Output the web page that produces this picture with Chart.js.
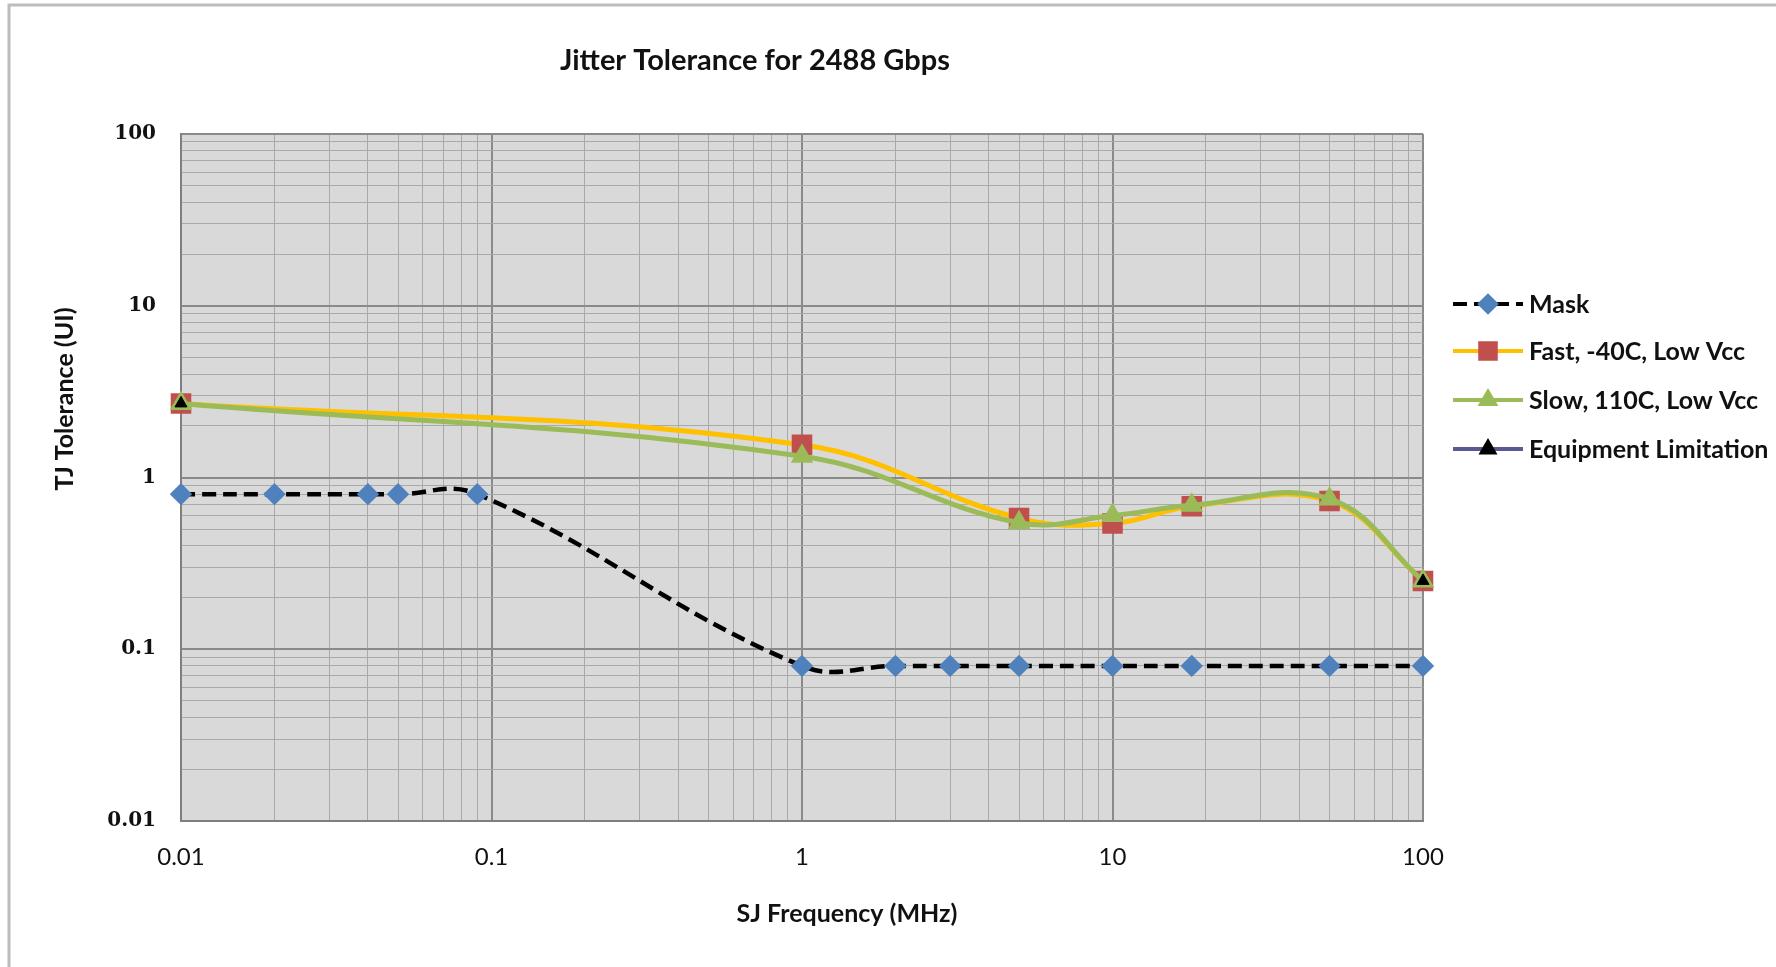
<!DOCTYPE html>
<html>
<head>
<meta charset="utf-8">
<script src="https://cdn.jsdelivr.net/npm/chart.js@4/dist/chart.umd.min.js"></script>
<style>
  html, body { margin: 0; padding: 0; background: #fff; }
  #wrap { width: 1776px; height: 967px; }
</style>
</head>
<body>
<div id="wrap"><canvas id="jitter-chart" width="1776" height="967"></canvas></div>
<script>
// Data
var maskFreq = [0.01, 0.02, 0.04, 0.05, 0.09, 1, 2, 3, 5, 10, 18, 50, 100];
var maskTol = [0.8, 0.8, 0.8, 0.8, 0.8, 0.08, 0.08, 0.08, 0.08, 0.08, 0.08, 0.08, 0.08];

var devFreq = [0.01, 1, 5, 10, 18, 50, 100];
var fastTol = [2.7, 1.55, 0.58, 0.54, 0.68, 0.73, 0.25];
var slowTol = [2.7, 1.33, 0.545, 0.6, 0.69, 0.75, 0.25];

var equipFreq = [0.01, 100];
var equipTol = [2.7, 0.25];

var decades = [0.01, 0.1, 1, 10, 100];
var decadeLabels = ["0.01", "0.1", "1", "10", "100"];

var seriesNames = ["Mask", "Fast, -40C, Low Vcc", "Slow, 110C, Low Vcc", "Equipment Limitation"];

function pts(xs, ys) {
    return xs.map(function (x, i) { return { x: x, y: ys[i] }; });
}

function isDecade(v) {
    return decades.some(function (d) { return Math.abs(v - d) / d < 1e-6; });
}

// 1..9 in every decade, so the grid looks like the Excel log grid
function logTicks(scale) {
    var t = [];
    for (var i = 0; i < decades.length - 1; i++) {
        for (var m = 1; m < 10; m++) {
            t.push({ value: +(decades[i] * m).toPrecision(6) });
        }
    }
    t.push({ value: decades[decades.length - 1] });
    scale.ticks = t;
}

function tickLabel(value) {
    var i = decades.findIndex(function (d) { return Math.abs(value - d) / d < 1e-6; });
    return i >= 0 ? decadeLabels[i] : "";
}

var gridColor = function (c) {
    return c.tick && isDecade(c.tick.value) ? "#8a8a8a" : "#a9a9a9";
};
var gridWidth = function (c) {
    return c.tick && isDecade(c.tick.value) ? 2 : 1;
};

var legendItems = [
    { line: "#000000", dash: [14, 7], marker: "rectRot", radius: 8, fill: "#4f81bd" },
    { line: "#ffc000", dash: [], marker: "rect", radius: 11, fill: "#c0504d" },
    { line: "#9bbb59", dash: [], marker: "triangle", radius: 8, fill: "#9bbb59" },
    { line: "#5a5a92", dash: [], marker: "triangle", radius: 7, fill: "#000000" }
];

var decorPlugin = {
    id: "decor",
    beforeDraw: function (chart) {
        var c = chart.ctx, a = chart.chartArea;
        c.save();
        c.fillStyle = "#ffffff";
        c.fillRect(0, 0, chart.width, chart.height);
        c.strokeStyle = "#bdbdbd";
        c.lineWidth = 3;
        c.strokeRect(9, 5, chart.width + 20, chart.height + 20);
        c.fillStyle = "#d9d9d9";
        c.fillRect(a.left, a.top, a.right - a.left, a.bottom - a.top);
        c.restore();
    },
    afterDraw: function (chart) {
        var c = chart.ctx;
        c.save();
        c.fillStyle = "#111";
        c.textAlign = "center";
        c.textBaseline = "middle";
        c.font = "bold 29px Lato";
        c.fillText("Jitter Tolerance for 2488 Gbps", 755, 61);
        c.font = "bold 25px Lato";
        c.fillText("SJ Frequency (MHz)", 847, 914);
        c.save();
        c.translate(65, 399);
        c.rotate(-Math.PI / 2);
        c.fillText("TJ Tolerance (UI)", 0, 0);
        c.restore();

        // legend: line + marker like Excel
        var ys = [304, 351, 400, 449];
        c.textAlign = "left";
        c.font = "bold 25px Lato";
        legendItems.forEach(function (it, i) {
            var y = ys[i];
            c.beginPath();
            c.setLineDash(it.dash);
            c.strokeStyle = it.line;
            c.lineWidth = 4;
            c.moveTo(1453, y);
            c.lineTo(1523, y);
            c.stroke();
            c.setLineDash([]);
            c.fillStyle = it.fill;
            c.strokeStyle = it.fill;
            Chart.helpers.drawPoint(c, { pointStyle: it.marker, radius: it.radius, rotation: 0, borderWidth: 1 }, 1488, y);
            c.fillStyle = "#111";
            c.fillText(seriesNames[i], 1529, y + 1);
        });
        c.restore();
    }
};

var ctx = document.getElementById("jitter-chart").getContext("2d");
var jitterChart = new Chart(ctx, {
    type: "line",
    data: {
        datasets: [{
            label: seriesNames[0],
            data: pts(maskFreq, maskTol),
            borderColor: "#000000",
            borderWidth: 4.5,
            borderDash: [14, 7],
            tension: 0.4,
            pointStyle: "rectRot",
            pointRadius: 8,
            pointBackgroundColor: "#4f81bd",
            pointBorderColor: "#4f81bd",
            clip: false,
            order: 4
        }, {
            label: seriesNames[1],
            data: pts(devFreq, fastTol),
            borderColor: "#ffc000",
            borderWidth: 5,
            tension: 0.4,
            pointStyle: "rect",
            pointRadius: 11,
            pointBackgroundColor: "#c0504d",
            pointBorderColor: "#c0504d",
            clip: false,
            order: 3
        }, {
            label: seriesNames[2],
            data: pts(devFreq, slowTol),
            borderColor: "#9bbb59",
            borderWidth: 5,
            tension: 0.4,
            pointStyle: "triangle",
            pointRadius: 8,
            pointBackgroundColor: "#9bbb59",
            pointBorderColor: "#9bbb59",
            clip: false,
            order: 2
        }, {
            label: seriesNames[3],
            data: pts(equipFreq, equipTol),
            borderColor: "#5a5a92",
            showLine: false,
            pointStyle: "triangle",
            pointRadius: 7,
            pointBackgroundColor: "#000000",
            pointBorderColor: "#000000",
            clip: false,
            order: 1
        }]
    },
    options: {
        responsive: false,
        animation: false,
        layout: { padding: { left: 0, top: 134, right: 353, bottom: 0 } },
        plugins: {
            legend: { display: false },
            tooltip: { enabled: false },
            title: { display: false }
        },
        scales: {
            x: {
                type: "logarithmic",
                min: 0.01,
                max: 100,
                afterBuildTicks: logTicks,
                afterFit: function (s) { s.height = 146; },
                grid: { color: gridColor, lineWidth: gridWidth, drawTicks: false },
                border: { color: "#7f7f7f", width: 2 },
                ticks: {
                    autoSkip: false,
                    maxRotation: 0,
                    padding: 22,
                    color: "#111",
                    font: { family: "Lato", size: 24 },
                    callback: tickLabel
                }
            },
            y: {
                type: "logarithmic",
                min: 0.01,
                max: 100,
                afterBuildTicks: logTicks,
                afterFit: function (s) { s.width = 181; },
                grid: { color: gridColor, lineWidth: gridWidth, drawTicks: false },
                border: { color: "#7f7f7f", width: 2 },
                ticks: {
                    autoSkip: false,
                    padding: 25,
                    color: "#111",
                    font: { family: "DejaVu Serif", size: 20, weight: "bold" },
                    callback: tickLabel
                }
            }
        }
    },
    plugins: [decorPlugin]
});
</script>
</body>
</html>
